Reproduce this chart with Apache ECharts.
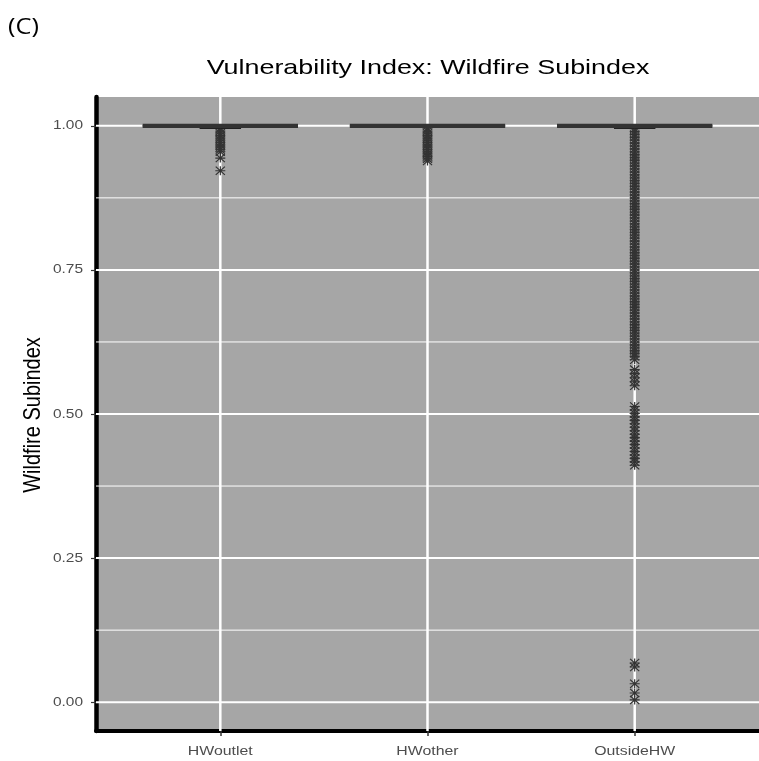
<!DOCTYPE html>
<html>
<head>
<meta charset="utf-8">
<script src="https://cdn.jsdelivr.net/npm/echarts@6/dist/echarts.min.js"></script>
<style>html,body{margin:0;padding:0;background:#fff;}#main{width:759px;height:761px;}</style>
</head>
<body>
<div id="main"></div>
<script>
// ---- data ----
const categories = ['HWoutlet', 'HWother', 'OutsideHW'];
const yTicks = [0, 0.25, 0.5, 0.75, 1.0];
const yMinorTicks = [0.125, 0.375, 0.625, 0.875];
const whiskerLow = [0.9957, 1.0, 0.9957];
const boxQ1 = [1.0, 1.0, 1.0];
const boxMedian = [1.0, 1.0, 1.0];
const boxQ3 = [1.0, 1.0, 1.0];
const whiskerHigh = [1.0, 1.0, 1.0];
const outHWoutlet = [0.995, 0.991, 0.987, 0.983, 0.979, 0.975, 0.971, 0.967, 0.963, 0.959, 0.955, 0.944, 0.922];
const outHWother = [0.995, 0.991, 0.987, 0.983, 0.979, 0.975, 0.971, 0.967, 0.963, 0.959, 0.955, 0.951, 0.947, 0.943, 0.939];
const outOutsideHW = [
  0.995, 0.99, 0.985, 0.98, 0.975, 0.97, 0.965, 0.96, 0.955, 0.95,
  0.945, 0.94, 0.935, 0.93, 0.925, 0.92, 0.915, 0.91, 0.905, 0.9,
  0.895, 0.89, 0.885, 0.88, 0.875, 0.87, 0.865, 0.86, 0.855, 0.85,
  0.845, 0.84, 0.835, 0.83, 0.825, 0.82, 0.815, 0.81, 0.805, 0.8,
  0.795, 0.79, 0.785, 0.78, 0.775, 0.77, 0.765, 0.76, 0.755, 0.75,
  0.745, 0.74, 0.735, 0.73, 0.725, 0.72, 0.715, 0.71, 0.705, 0.7,
  0.695, 0.69, 0.685, 0.68, 0.675, 0.67, 0.665, 0.66, 0.655, 0.65,
  0.645, 0.64, 0.635, 0.63, 0.625, 0.62, 0.615, 0.61, 0.605, 0.6, 0.594,
  0.577, 0.57, 0.563, 0.556, 0.549,
  0.513, 0.507, 0.501, 0.495, 0.489, 0.483, 0.477, 0.471, 0.465, 0.459,
  0.453, 0.447, 0.441, 0.435, 0.429, 0.423, 0.417, 0.411,
  0.068, 0.061, 0.032, 0.016, 0.004
];
const titleText = 'Vulnerability Index: Wildfire Subindex';
const yAxisTitle = 'Wildfire Subindex';
const panelTag = '(C)';

// ---- build ----
const X_MIN = 0.4, X_MAX = 3.6, Y_MIN = -0.05, Y_MAX = 1.05;
const FONT = '"Liberation Sans", Arial, sans-serif';
const asterisk = 'path://M8.8,0L11.2,0L11.2,20L8.8,20Z M0,8.8L20,8.8L20,11.2L0,11.2Z M1.7,0L20,18.3L18.3,20L0,1.7Z M18.3,0L20,1.7L1.7,20L0,18.3Z';

const boxData = categories.map((c, i) => [i + 1, whiskerLow[i], boxQ1[i], boxMedian[i], boxQ3[i], whiskerHigh[i]]);
const outliers = [];
[outHWoutlet, outHWother, outOutsideHW].forEach((arr, i) => arr.forEach(v => outliers.push([i + 1, v])));

const hGrid = yTicks.map(v => [v, 1]).concat(yMinorTicks.map(v => [v, 0]));
const vGrid = categories.map((c, i) => [i + 1]);

const chart = echarts.init(document.getElementById('main'), null, {renderer: 'canvas'});
chart.setOption({
  animation: false,
  backgroundColor: '#ffffff',
  grid: {left: 96, right: -3, top: 97, bottom: 30, show: true, backgroundColor: '#a6a6a6', borderWidth: 0, containLabel: false},
  xAxis: {
    type: 'value', min: X_MIN, max: X_MAX,
    axisLine: {show: true, onZero: false, lineStyle: {color: '#000', width: 4}},
    axisTick: {show: true, customValues: [1, 2, 3], length: 5, lineStyle: {color: '#333', width: 1.5}},
    axisLabel: {show: false},
    splitLine: {show: false}
  },
  yAxis: {
    type: 'value', min: Y_MIN, max: Y_MAX,
    axisLine: {show: true, onZero: false, lineStyle: {color: '#000', width: 4.5}},
    axisTick: {show: true, customValues: yTicks, length: 5, lineStyle: {color: '#333', width: 1.2}},
    axisLabel: {show: false},
    splitLine: {show: false}
  },
  graphic: [
    {type: 'text', x: 428, y: 68, scaleX: 1.28, style: {text: titleText, align: 'center', verticalAlign: 'middle', fontSize: 21, fontFamily: FONT, fill: '#000'}},
    {type: 'text', x: 33, y: 415, rotation: Math.PI / 2, scaleY: 1.2, style: {text: yAxisTitle, align: 'center', verticalAlign: 'middle', fontSize: 20, fontFamily: FONT, fill: '#000'}},
    {type: 'text', x: 8, y: 28, scaleX: 1.15, style: {text: panelTag, align: 'left', verticalAlign: 'middle', fontSize: 22, fontFamily: '"Open Sans", "Noto Sans", sans-serif', fill: '#000'}}
  ],
  series: [
    {
      type: 'custom', name: 'hgrid', z: 1, silent: true, data: hGrid,
      renderItem: (p, api) => {
        const v = api.value(0), major = api.value(1) === 1;
        const a = api.coord([X_MIN, v]), b = api.coord([X_MAX, v]);
        return {type: 'line', shape: {x1: a[0], y1: a[1], x2: b[0], y2: b[1]}, style: {stroke: '#fff', lineWidth: major ? 2 : 1}};
      }
    },
    {
      type: 'custom', name: 'vgrid', z: 1, silent: true, data: vGrid,
      renderItem: (p, api) => {
        const x = api.value(0);
        const a = api.coord([x, Y_MIN]), b = api.coord([x, Y_MAX]);
        return {type: 'line', shape: {x1: a[0], y1: a[1], x2: b[0], y2: b[1]}, style: {stroke: '#fff', lineWidth: 2.5}};
      }
    },
    {
      type: 'custom', name: 'box', z: 3, silent: true, data: boxData,
      renderItem: (p, api) => {
        const x = api.value(0), lo = api.value(1), q1 = api.value(2), med = api.value(3), q3 = api.value(4), hi = api.value(5);
        const eb1 = api.coord([x - 0.1, lo]), eb2 = api.coord([x + 0.1, lo]);
        const w1 = api.coord([x, lo]), w2 = api.coord([x, q1]);
        const m1 = api.coord([x - 0.375, med]), m2 = api.coord([x + 0.375, med]);
        const b1 = api.coord([x - 0.375, q3]), b2 = api.coord([x + 0.375, q1]);
        return {type: 'group', children: [
          {type: 'line', shape: {x1: eb1[0], y1: eb1[1], x2: eb2[0], y2: eb2[1]}, style: {stroke: '#222', lineWidth: 1.6}},
          {type: 'line', shape: {x1: w1[0], y1: w1[1], x2: w2[0], y2: w2[1]}, style: {stroke: '#333', lineWidth: 1.2}},
          {type: 'rect', shape: {x: b1[0], y: b1[1], width: b2[0] - b1[0], height: Math.max(0, b2[1] - b1[1])}, style: {fill: '#fff', stroke: '#333', lineWidth: 1.2}},
          {type: 'line', shape: {x1: m1[0], y1: m1[1], x2: m2[0], y2: m2[1]}, style: {stroke: '#333', lineWidth: 4.2}}
        ]};
      }
    },
    {
      type: 'scatter', name: 'outliers', z: 2, silent: true, data: outliers,
      symbol: asterisk, symbolSize: [10, 9],
      itemStyle: {color: '#333333', opacity: 1}
    },
    {
      type: 'custom', name: 'ylabels', z: 4, silent: true, data: yTicks.map(v => [X_MIN, v]),
      renderItem: (p, api) => {
        const pt = api.coord([api.value(0), api.value(1)]);
        return {type: 'text', x: pt[0] - 13, y: pt[1], scaleX: 1.19,
          style: {text: api.value(1).toFixed(2), align: 'right', verticalAlign: 'middle', fontSize: 13, fontFamily: FONT, fill: '#4d4d4d'}};
      }
    },
    {
      type: 'custom', name: 'xlabels', z: 4, silent: true, data: categories.map((c, i) => [i + 1, Y_MIN]),
      renderItem: (p, api) => {
        const pt = api.coord([api.value(0), api.value(1)]);
        return {type: 'text', x: pt[0], y: pt[1] + 20, scaleX: 1.22,
          style: {text: categories[p.dataIndex], align: 'center', verticalAlign: 'middle', fontSize: 13, fontFamily: FONT, fill: '#4d4d4d'}};
      }
    }
  ]
});
</script>
</body>
</html>
